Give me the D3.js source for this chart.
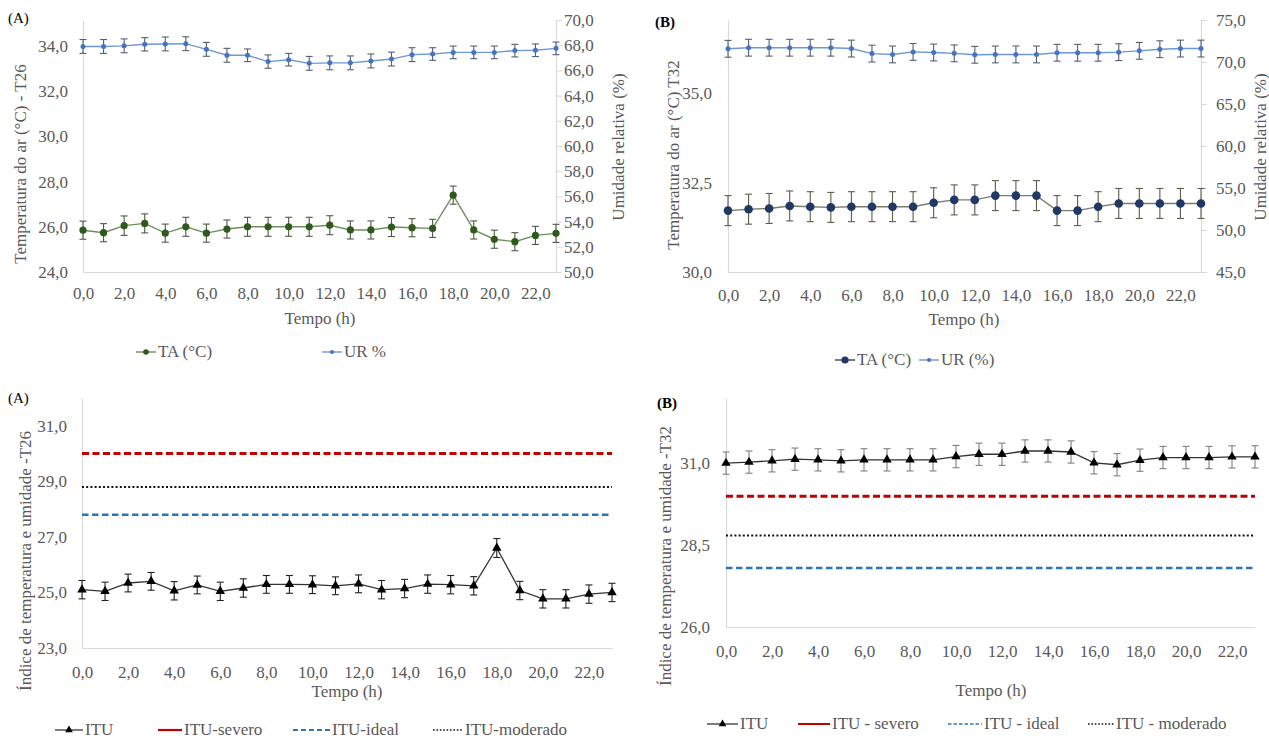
<!DOCTYPE html>
<html>
<head>
<meta charset="utf-8">
<script src="https://cdn.jsdelivr.net/npm/d3@7"></script>
<style>
  body { margin: 0; background: #fff; }
  svg text { font-family: "Liberation Serif", "DejaVu Serif", serif !important; }
</style>
</head>
<body>
<div id="chart"></div>
<script>
// ---- data ----
const hours = [0, 1, 2, 3, 4, 5, 6, 7, 8, 9, 10, 11, 12, 13, 14, 15, 16, 17, 18, 19, 20, 21, 22, 23];
const hourTicks = [0, 2, 4, 6, 8, 10, 12, 14, 16, 18, 20, 22];

// T26 air temperature (°C) and relative humidity (%)
const taT26 = [25.85, 25.74, 26.05, 26.15, 25.72, 26.0, 25.72, 25.9, 26.0, 26.0, 26.0, 26.0, 26.07, 25.86, 25.86, 25.99, 25.96, 25.93, 27.4, 25.86, 25.45, 25.34, 25.62, 25.71];
const taT26Err = [0.4, 0.4, 0.43, 0.42, 0.4, 0.42, 0.4, 0.4, 0.42, 0.42, 0.42, 0.42, 0.42, 0.4, 0.4, 0.42, 0.4, 0.4, 0.4, 0.4, 0.4, 0.4, 0.4, 0.4];
const urT26 = [67.9, 67.9, 67.95, 68.07, 68.1, 68.12, 67.67, 67.2, 67.2, 66.7, 66.85, 66.56, 66.6, 66.6, 66.75, 66.9, 67.25, 67.3, 67.43, 67.43, 67.43, 67.57, 67.6, 67.75];
const urT26Err = [0.55, 0.55, 0.55, 0.53, 0.55, 0.55, 0.55, 0.55, 0.5, 0.53, 0.5, 0.55, 0.55, 0.55, 0.55, 0.55, 0.55, 0.5, 0.5, 0.5, 0.5, 0.5, 0.5, 0.5];

// T32 air temperature (°C) and relative humidity (%)
const taT32 = [31.72, 31.76, 31.78, 31.85, 31.83, 31.81, 31.83, 31.83, 31.83, 31.83, 31.94, 32.02, 32.02, 32.14, 32.14, 32.14, 31.72, 31.72, 31.83, 31.92, 31.92, 31.92, 31.92, 31.92];
const taT32Err = [0.42, 0.42, 0.42, 0.42, 0.42, 0.42, 0.42, 0.42, 0.42, 0.42, 0.42, 0.42, 0.42, 0.42, 0.42, 0.42, 0.42, 0.42, 0.42, 0.42, 0.42, 0.42, 0.42, 0.42];
const urT32 = [71.57, 71.7, 71.7, 71.7, 71.7, 71.7, 71.6, 71.0, 70.9, 71.2, 71.13, 71.03, 70.86, 70.9, 70.9, 70.9, 71.1, 71.1, 71.1, 71.17, 71.33, 71.52, 71.6, 71.6];
const urT32Err = [1.0, 1.0, 1.0, 1.0, 1.0, 1.0, 1.0, 1.0, 1.0, 1.0, 1.0, 1.0, 1.0, 1.0, 1.0, 1.0, 1.0, 1.0, 1.0, 1.0, 1.0, 1.0, 1.0, 1.0];

// temperature-humidity index
const ituT26 = [25.1, 25.04, 25.34, 25.4, 25.06, 25.27, 25.04, 25.16, 25.29, 25.29, 25.28, 25.24, 25.31, 25.1, 25.14, 25.3, 25.28, 25.24, 26.6, 25.07, 24.77, 24.77, 24.94, 25.0];
const ituT26Err = [0.33, 0.33, 0.32, 0.32, 0.33, 0.32, 0.33, 0.33, 0.32, 0.32, 0.32, 0.32, 0.32, 0.33, 0.33, 0.33, 0.33, 0.33, 0.34, 0.33, 0.33, 0.33, 0.33, 0.33];
const ituT32 = [31.01, 31.04, 31.08, 31.13, 31.11, 31.08, 31.11, 31.11, 31.11, 31.11, 31.21, 31.28, 31.28, 31.38, 31.38, 31.35, 31.02, 30.96, 31.1, 31.18, 31.18, 31.18, 31.2, 31.2];
const ituT32Err = [0.34, 0.34, 0.34, 0.34, 0.34, 0.34, 0.34, 0.34, 0.34, 0.34, 0.34, 0.34, 0.34, 0.34, 0.34, 0.34, 0.34, 0.34, 0.34, 0.34, 0.34, 0.34, 0.34, 0.34];

// ITU thresholds
const ituSevero = 30.0;
const ituModerado = 28.8;
const ituIdeal = 27.8;

// tick values
const ticksT26 = [24, 26, 28, 30, 32, 34];
const ticksUR26 = [50, 52, 54, 56, 58, 60, 62, 64, 66, 68, 70];
const ticksT32 = [30, 32.5, 35];
const ticksUR32 = [45, 50, 55, 60, 65, 70, 75];
const ticksItu26 = [23, 25, 27, 29, 31];
const ticksItu32 = [26, 28.5, 31];

// ---- drawing ----
const W = 1269, H = 738;
const FONT = 17;
const SERIF = "Liberation Serif";
const TXT = "#595959";
const AXIS = "#d9d9d9";
const fmt = v => d3.format(".1f")(v).replace(".", ",");

const svg = d3.select("#chart").append("svg")
  .attr("width", W).attr("height", H)
  .attr("font-family", SERIF)
  .style("background", "#fff");

function marker(g, kind, cx, cy, r, color) {
  if (kind === "triangle") {
    g.append("path")
      .attr("d", d3.symbol(d3.symbolTriangle, r * r * 2.2)())
      .attr("transform", `translate(${cx},${cy})`)
      .attr("fill", color);
  } else {
    g.append("circle").attr("cx", cx).attr("cy", cy).attr("r", r).attr("fill", color);
  }
}

function styleAxis(a) {
  a.attr("font-family", SERIF).attr("font-size", FONT);
  a.select(".domain").attr("stroke", AXIS).attr("stroke-width", 1.2);
  a.selectAll(".tick line").attr("stroke", AXIS);
  a.selectAll("text").attr("fill", TXT);
}

function drawPanel(p) {
  const g = svg.append("g");
  const x = d3.scaleLinear().domain([0, 23]).range([p.x0, p.x1]);
  const yL = d3.scaleLinear().domain(p.left.domain).range([p.yBot, p.yTop]);
  const yR = p.right ? d3.scaleLinear().domain(p.right.domain).range([p.yBot, p.yTop]) : null;

  // left axis
  g.append("g").attr("transform", `translate(${p.x0},0)`)
    .call(d3.axisLeft(yL).tickValues(p.left.ticks).tickFormat(fmt).tickSize(0).tickPadding(p.left.pad))
    .call(styleAxis);

  // right axis
  if (yR) {
    g.append("g").attr("transform", `translate(${p.x1},0)`)
      .call(d3.axisRight(yR).tickValues(p.right.ticks).tickFormat(fmt).tickSizeInner(6).tickSizeOuter(0).tickPadding(p.right.pad))
      .call(styleAxis);
  }

  // bottom axis
  g.append("g").attr("transform", `translate(0,${p.yBot})`)
    .call(d3.axisBottom(x).tickValues(hourTicks).tickFormat(fmt).tickSize(0).tickPadding(p.xPad))
    .call(styleAxis);

  // reference lines
  (p.refs || []).forEach(r => {
    g.append("line")
      .attr("x1", p.x0).attr("x2", p.x1)
      .attr("y1", yL(r.value)).attr("y2", yL(r.value))
      .attr("stroke", r.color).attr("stroke-width", r.width)
      .attr("stroke-dasharray", r.dash);
  });

  // series
  p.series.forEach(s => {
    const y = s.axis === "right" ? yR : yL;
    const line = d3.line().x((d, i) => x(hours[i])).y(d => y(d));
    g.append("path").datum(s.values)
      .attr("d", line).attr("fill", "none")
      .attr("stroke", s.lineColor).attr("stroke-width", s.lineWidth);
    const eb = g.append("g");
    s.values.forEach((v, i) => {
      const cx = x(hours[i]), t = y(v + s.errors[i]), b = y(v - s.errors[i]);
      eb.append("line").attr("x1", cx).attr("x2", cx).attr("y1", t).attr("y2", b);
      eb.append("line").attr("x1", cx - 3.5).attr("x2", cx + 3.5).attr("y1", t).attr("y2", t);
      eb.append("line").attr("x1", cx - 3.5).attr("x2", cx + 3.5).attr("y1", b).attr("y2", b);
    });
    eb.selectAll("line").attr("stroke", s.errColor).attr("stroke-width", 1.1);
    const mk = g.append("g");
    s.values.forEach((v, i) => marker(mk, s.marker, x(hours[i]), y(v), s.r, s.color));
  });

  // axis titles
  const title = (tx, ty, rot, label) => g.append("text")
    .attr("transform", `translate(${tx},${ty}) rotate(${rot})`)
    .attr("text-anchor", "middle").attr("dominant-baseline", "central")
    .attr("fill", TXT).attr("font-size", FONT).text(label);
  title(p.leftTitle.x, p.leftTitle.y, -90, p.leftTitle.text);
  if (p.rightTitle) title(p.rightTitle.x, p.rightTitle.y, -90, p.rightTitle.text);
  g.append("text").attr("x", p.xTitle.x).attr("y", p.xTitle.y)
    .attr("text-anchor", "middle").attr("fill", TXT).attr("font-size", FONT).text("Tempo (h)");

  // panel letter
  g.append("text").attr("x", p.tag.x).attr("y", p.tag.y)
    .attr("fill", "#000").attr("font-size", 15)
    .attr("font-weight", p.tag.bold ? "bold" : "normal").text(p.tag.text);

  // legend
  p.legend.forEach(l => {
    const lg = g.append("g");
    lg.append("line").attr("x1", l.x).attr("x2", l.x + l.len)
      .attr("y1", p.legendY - 5).attr("y2", p.legendY - 5)
      .attr("stroke", l.color).attr("stroke-width", l.width)
      .attr("stroke-dasharray", l.dash || null);
    if (l.marker) marker(lg, l.marker, l.x + l.len / 2, p.legendY - 5, l.r, l.markerColor);
    lg.append("text").attr("x", l.x + l.len + 2).attr("y", p.legendY)
      .attr("fill", TXT).attr("font-size", FONT).text(l.label);
  });
}

const green = "#2f5a1e", greenLine = "#6f8f5f";
const blue = "#4472c4", blueLine = "#6f97d2";
const navy = "#1f3864", navyLine = "#7c7c6c";

// (A) T26 temperature / humidity
drawPanel({
  x0: 83, x1: 556, yTop: 20, yBot: 272, xPad: 15,
  left: { domain: [24, 35.15], ticks: ticksT26, pad: 15 },
  right: { domain: [50, 70], ticks: ticksUR26, pad: 2 },
  series: [
    { values: urT26, errors: urT26Err, axis: "right", color: blue, lineColor: blueLine, lineWidth: 1.4, errColor: "#55606e", marker: "circle", r: 2.5 },
    { values: taT26, errors: taT26Err, axis: "left", color: green, lineColor: greenLine, lineWidth: 1.4, errColor: "#4d5a44", marker: "circle", r: 3.6 }
  ],
  leftTitle: { x: 20, y: 164, text: "Temperatura do ar (°C) - T26" },
  rightTitle: { x: 618, y: 147, text: "Umidade relativa (%)" },
  xTitle: { x: 320, y: 324 },
  tag: { x: 8, y: 23, text: "(A)" },
  legendY: 357,
  legend: [
    { x: 136, len: 20, color: greenLine, width: 1.4, marker: "circle", r: 2.8, markerColor: green, label: "TA (°C)" },
    { x: 322, len: 20, color: blueLine, width: 1.4, marker: "circle", r: 2, markerColor: blue, label: "UR %" }
  ]
});

// (B) T32 temperature / humidity
drawPanel({
  x0: 728, x1: 1201, yTop: 20, yBot: 272, xPad: 17,
  left: { domain: [30, 37.06], ticks: ticksT32, pad: 16 },
  right: { domain: [45, 75], ticks: ticksUR32, pad: 9 },
  series: [
    { values: urT32, errors: urT32Err, axis: "right", color: blue, lineColor: blueLine, lineWidth: 1.4, errColor: "#55606e", marker: "circle", r: 2.5 },
    { values: taT32, errors: taT32Err, axis: "left", color: navy, lineColor: navyLine, lineWidth: 1.4, errColor: "#5c5c4a", marker: "circle", r: 4.3 }
  ],
  leftTitle: { x: 673, y: 155, text: "Temperatura do ar (°C) T32" },
  rightTitle: { x: 1260, y: 147, text: "Umidade relativa (%)" },
  xTitle: { x: 964, y: 325 },
  tag: { x: 655, y: 27, text: "(B)", bold: true },
  legendY: 365,
  legend: [
    { x: 835, len: 20, color: "#404040", width: 1.4, marker: "circle", r: 3.6, markerColor: navy, label: "TA (°C)" },
    { x: 919, len: 20, color: blueLine, width: 1.4, marker: "circle", r: 2, markerColor: blue, label: "UR (%)" }
  ]
});

// (A) ITU T26
drawPanel({
  x0: 82, x1: 612, yTop: 398, yBot: 648, xPad: 18,
  left: { domain: [23, 32], ticks: ticksItu26, pad: 15 },
  series: [
    { values: ituT26, errors: ituT26Err, axis: "left", color: "#000", lineColor: "#333", lineWidth: 1.3, errColor: "#222", marker: "triangle", r: 4.2 }
  ],
  refs: [
    { value: ituSevero, color: "#c00000", width: 3, dash: "7,3.5" },
    { value: ituModerado, color: "#111", width: 2, dash: "2,2.2" },
    { value: ituIdeal, color: "#2e75b6", width: 2.5, dash: "6.5,3.5" }
  ],
  leftTitle: { x: 25, y: 561, text: "Índice de temperatura e umidade -T26" },
  xTitle: { x: 347, y: 697 },
  tag: { x: 8, y: 403, text: "(A)" },
  legendY: 735,
  legend: [
    { x: 55, len: 28, color: "#333", width: 1.3, marker: "triangle", r: 3.4, markerColor: "#000", label: "ITU" },
    { x: 158, len: 24, color: "#c00000", width: 2.2, label: "ITU-severo" },
    { x: 293, len: 37, color: "#2e75b6", width: 2.2, dash: "5,3", label: "ITU-ideal" },
    { x: 433, len: 30, color: "#111", width: 1.6, dash: "1.6,1.8", label: " ITU-moderado" }
  ]
});

// (B) ITU T32
drawPanel({
  x0: 726, x1: 1255, yTop: 398, yBot: 627, xPad: 18,
  left: { domain: [26, 33], ticks: ticksItu32, pad: 16 },
  series: [
    { values: ituT32, errors: ituT32Err, axis: "left", color: "#000", lineColor: "#333", lineWidth: 1.3, errColor: "#7f7f7f", marker: "triangle", r: 4.2 }
  ],
  refs: [
    { value: ituSevero, color: "#c00000", width: 3, dash: "7,3.5" },
    { value: ituModerado, color: "#111", width: 2, dash: "2,2.2" },
    { value: ituIdeal, color: "#2e75b6", width: 2.5, dash: "6.5,3.5" }
  ],
  leftTitle: { x: 665, y: 556, text: "Índice de temperatura e umidade -T32" },
  xTitle: { x: 991, y: 696 },
  tag: { x: 657, y: 408, text: "(B)", bold: true },
  legendY: 729,
  legend: [
    { x: 707, len: 31, color: "#333", width: 1.3, marker: "triangle", r: 3.4, markerColor: "#000", label: " ITU" },
    { x: 798, len: 32, color: "#c00000", width: 2, label: "ITU - severo" },
    { x: 948, len: 34, color: "#2e75b6", width: 1.4, dash: "3.5,2", label: "ITU - ideal" },
    { x: 1088, len: 26, color: "#111", width: 1.6, dash: "1.6,1.8", label: "  ITU - moderado" }
  ]
});
</script>
</body>
</html>
